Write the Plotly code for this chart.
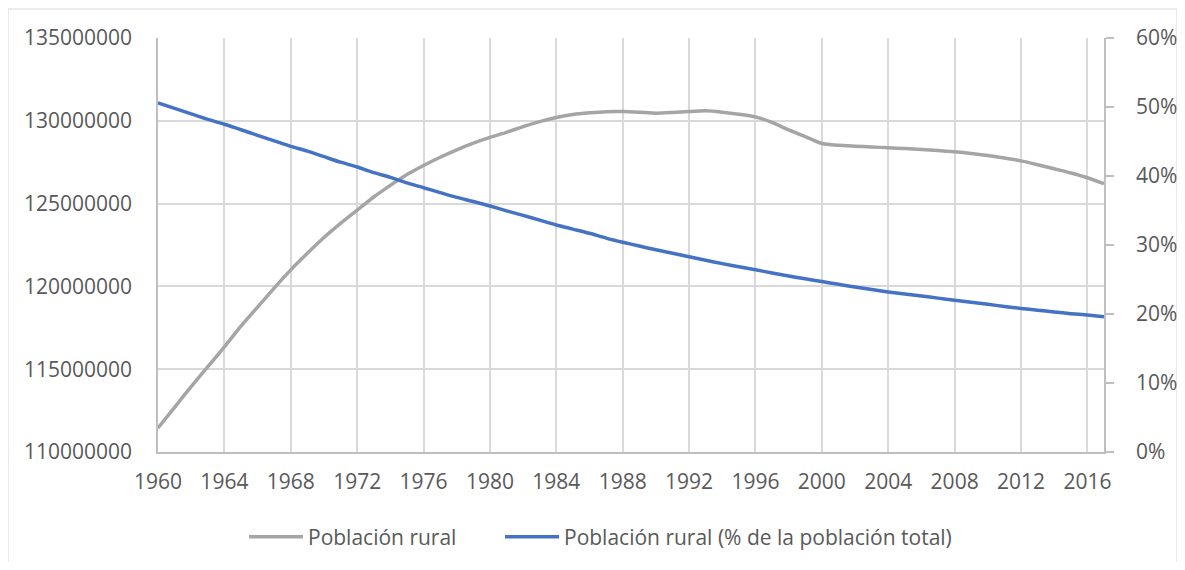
import plotly.graph_objects as go

years = list(range(1960, 2018))

# Población rural, millones de personas
rural_mill = [
    111.45, 112.7, 113.95, 115.15, 116.35, 117.6, 118.75, 119.9, 121.0, 122.0,
    122.95, 123.8, 124.6, 125.4, 126.1, 126.75, 127.3, 127.8, 128.25, 128.65,
    129.0, 129.3, 129.65, 129.95, 130.2, 130.38, 130.48, 130.55, 130.56, 130.52,
    130.46, 130.5, 130.56, 130.6, 130.52, 130.4, 130.24, 129.9, 129.45, 129.05,
    128.63, 128.52, 128.47, 128.42, 128.37, 128.32, 128.26, 128.2, 128.13, 128.03,
    127.9, 127.75, 127.58, 127.35, 127.1, 126.85, 126.56, 126.2,
]

# Población rural (% de la población total)
rural_pct = [
    50.6, 49.8, 49.0, 48.2, 47.5, 46.7, 45.9, 45.1, 44.3, 43.6,
    42.8, 42.0, 41.3, 40.5, 39.8, 39.0, 38.3, 37.6, 36.9, 36.3,
    35.65, 34.95, 34.3, 33.6, 32.9, 32.3, 31.7, 31.0, 30.4, 29.85,
    29.3, 28.8, 28.3, 27.8, 27.3, 26.85, 26.4, 25.95, 25.5, 25.1,
    24.7, 24.3, 23.9, 23.55, 23.2, 22.9, 22.6, 22.3, 22.0, 21.7,
    21.4, 21.1, 20.8, 20.55, 20.3, 20.05, 19.85, 19.6,
]

rural = [v * 1e6 for v in rural_mill]

font_txt = "Open Sans"
grey_txt = "#595959"
grid = "#d9d9d9"

W, H = 1169, 554  # fits inside the window with the 8px body margin

fig = go.Figure()

fig.add_trace(go.Scatter(
    x=years, y=rural, name="Población rural", mode="lines", showlegend=True,
    line=dict(color="#a5a5a5", width=3.5, shape="spline", smoothing=0.6),
))
fig.add_trace(go.Scatter(
    x=years, y=rural_pct, name="Población rural (% de la población total)",
    mode="lines", yaxis="y2", legend="legend2", showlegend=True,
    line=dict(color="#4472c4", width=3.5, shape="spline", smoothing=0.6),
))

leg = dict(
    orientation="h", xref="container", xanchor="left",
    yref="container", y=(562 - 537) / H, yanchor="middle",
    font=dict(size=21, color=grey_txt), itemwidth=54,
)

fig.update_layout(
    width=W, height=H, showlegend=True,
    margin=dict(l=150, r=73, t=30, b=110, autoexpand=False),
    paper_bgcolor="white", plot_bgcolor="white",
    font=dict(family=font_txt, size=21, color=grey_txt),
    xaxis=dict(
        range=[1960, 2017], tick0=1960, dtick=4, showgrid=True,
        gridcolor=grid, gridwidth=1.5, showline=True, linecolor="#bfbfbf",
        linewidth=1.5, ticks="", ticklabelstandoff=10, zeroline=False,
        automargin=False,
    ),
    yaxis=dict(
        range=[110e6, 135e6], dtick=5e6, tickformat="d", showgrid=True,
        gridcolor=grid, gridwidth=1.5, showline=True, linecolor="#bfbfbf",
        linewidth=1.5, ticks="", ticklabelstandoff=20, zeroline=False,
        automargin=False,
    ),
    yaxis2=dict(
        range=[0, 60], dtick=10, ticksuffix="%", overlaying="y", side="right",
        showgrid=False, showline=True, linecolor="#bfbfbf", linewidth=1.5,
        ticks="outside", ticklen=8, tickcolor="#bfbfbf", tickwidth=1.5,
        ticklabelstandoff=18, zeroline=False, automargin=False,
    ),
    legend=dict(leg, x=236 / W),
    legend2=dict(leg, x=492 / W),
    shapes=[dict(
        type="rect", xref="paper", yref="paper",
        x0=-0.1586, x1=1.0772, y0=-0.30, y1=1.070,
        line=dict(color=grid, width=1.2), layer="below",
    )],
)

fig.write_html("out.html")
